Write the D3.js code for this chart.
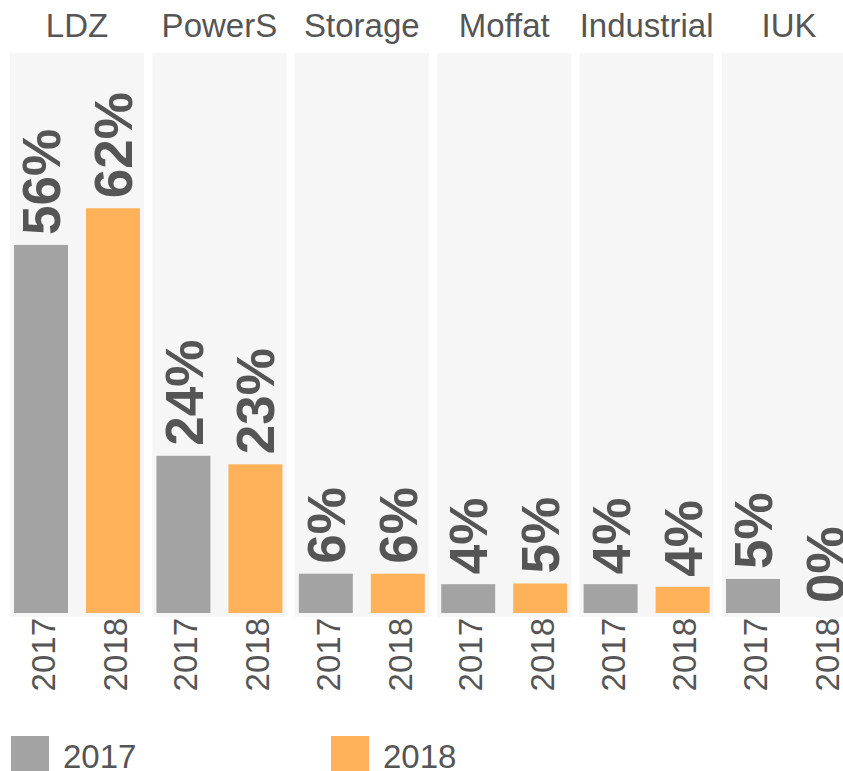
<!DOCTYPE html>
<html>
<head>
<meta charset="utf-8">
<script src="https://cdn.jsdelivr.net/npm/d3@7"></script>
<style>
  body { margin: 0; background: #fff; }
  svg { display: block; font-family: "Liberation Sans", Arial, sans-serif; }
</style>
</head>
<body>
<div id="chart"></div>
<script>
// data
const sectors = ["LDZ", "PowerS", "Storage", "Moffat", "Industrial", "IUK"]
const years = ["2017", "2018"]
const share2017 = [56.2, 24.0, 6.0, 4.4, 4.4, 5.2]
const share2018 = [61.8, 22.7, 6.0, 4.5, 4.0, 0]

const colors = { "2017": "#a3a3a3", "2018": "#ffb25a" }
const textColor = "#555555"
const panelBg = "#f6f6f6"

const width = 843
const height = 771

const rows = sectors.map((s, i) => ({
  sector: s,
  values: [
    { year: "2017", value: share2017[i] },
    { year: "2018", value: share2018[i] }
  ]
}))

const svg = d3.select('#chart').append('svg')
  .attr('width', width)
  .attr('height', height)

// facet + inner scales
const panelTop = 53
const panelBottom = 617
const baseY = 613

const fx = d3.scaleBand()
  .domain(sectors)
  .range([10, 10 + 6 * 142.4 - 8.4])
  .paddingInner(8.4 / 142.4)

const x = d3.scaleBand()
  .domain(years)
  .range([0, fx.bandwidth()])
  .paddingInner(0.25)
  .paddingOuter(0.056)

const y = d3.scaleLinear()
  .domain([0, 85.5])
  .range([baseY, panelTop])

const panels = svg.selectAll('g.panel')
  .data(rows)
  .join('g')
  .attr('class', 'panel')
  .attr('transform', d => `translate(${fx(d.sector)},0)`)

panels.append('rect')
  .attr('x', 0)
  .attr('y', panelTop)
  .attr('width', fx.bandwidth())
  .attr('height', panelBottom - panelTop)
  .attr('fill', panelBg)

panels.append('text')
  .attr('x', fx.bandwidth() / 2)
  .attr('y', 37)
  .attr('text-anchor', 'middle')
  .attr('fill', textColor)
  .style('font-size', '33px')
  .text(d => d.sector)

panels.selectAll('rect.bar')
  .data(d => d.values)
  .join('rect')
  .attr('class', 'bar')
  .attr('x', d => x(d.year))
  .attr('y', d => y(d.value))
  .attr('width', x.bandwidth())
  .attr('height', d => y(0) - y(d.value))
  .attr('fill', d => colors[d.year])

// value labels, rotated
panels.selectAll('text.val')
  .data(d => d.values)
  .join('text')
  .attr('class', 'val')
  .attr('transform', d => `translate(${x(d.year) + x.bandwidth() / 2},${y(d.value) - 10}) rotate(-90)`)
  .attr('dy', '0.36em')
  .attr('fill', textColor)
  .style('font-size', '53px')
  .style('font-weight', 'bold')
  .text(d => d3.format('.0f')(d.value) + '%')

// x tick labels
panels.selectAll('text.tick')
  .data(d => d.values)
  .join('text')
  .attr('class', 'tick')
  .attr('transform', d => `translate(${x(d.year) + x.bandwidth() / 2 + 2},${panelBottom + 1}) rotate(-90)`)
  .attr('dy', '0.36em')
  .attr('text-anchor', 'end')
  .attr('fill', textColor)
  .style('font-size', '33px')
  .text(d => d.year)

// legend
const legend = svg.append('g')
const legendX = d3.scaleOrdinal().domain(years).range([11, 331])

const item = legend.selectAll('g')
  .data(years)
  .join('g')
  .attr('transform', d => `translate(${legendX(d)},736)`)

item.append('rect')
  .attr('width', 38)
  .attr('height', 38)
  .attr('fill', d => colors[d])

item.append('text')
  .attr('x', 52)
  .attr('y', 32)
  .attr('fill', textColor)
  .style('font-size', '33px')
  .text(d => d)
</script>
</body>
</html>
